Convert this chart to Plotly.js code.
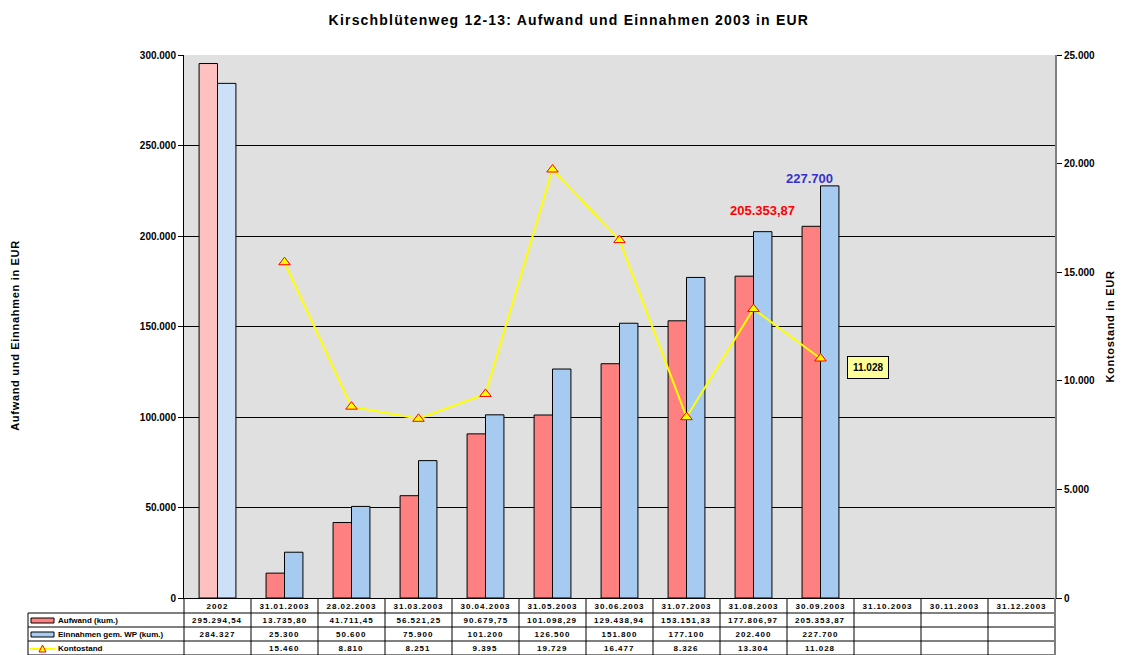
<!DOCTYPE html>
<html><head><meta charset="utf-8">
<script src="https://cdn.plot.ly/plotly-3.0.1.min.js"></script>
<style>body{margin:0;background:#fff}#chart{width:1122px;height:655px}</style>
</head><body><div id="chart"></div>
<script>
const categories = ["2002","31.01.2003","28.02.2003","31.03.2003","30.04.2003","31.05.2003","30.06.2003","31.07.2003","31.08.2003","30.09.2003","31.10.2003","30.11.2003","31.12.2003"];
const aufwand = [295294.54,13735.80,41711.45,56521.25,90679.75,101098.29,129438.94,153151.33,177806.97,205353.87,null,null,null];
const einnahmen = [284327,25300,50600,75900,101200,126500,151800,177100,202400,227700,null,null,null];
const kontostand = [null,15460,8810,8251,9395,19729,16477,8326,13304,11028,null,null,null];
const seriesNames = ["Aufwand (kum.)","Einnahmen gem. WP (kum.)","Kontostand"];

const W=1122,H=655,L=184,R=1055,T=55,B=598;
const py = p => (B-p)/(B-T);
const px = p => (p-L)/(R-L);
const FONT = "Liberation Sans, Arial, sans-serif";

function fmt(v, dec){
  if(v===null||v===undefined) return "";
  let s = v.toFixed(dec);
  let [ip, dp] = s.split(".");
  ip = ip.replace(/\B(?=(\d{3})+(?!\d))/g, ".");
  return dp ? ip + "," + dp : ip;
}

const aufColors = aufwand.map((v,i)=> i===0 ? "#FFC0C0" : "#FF8080");
const einColors = einnahmen.map((v,i)=> i===0 ? "#CCE0F8" : "#A6CAF0");

const traces = [
  {type:"bar", x:categories, y:aufwand, name:seriesNames[0], marker:{color:aufColors, line:{color:"#000",width:1}}, hoverinfo:"skip"},
  {type:"bar", x:categories, y:einnahmen, name:seriesNames[1], marker:{color:einColors, line:{color:"#000",width:1}}, hoverinfo:"skip"},
  {type:"scatter", mode:"lines+markers", x:categories, y:kontostand, yaxis:"y2", name:seriesNames[2],
   line:{color:"#FFFF00", width:2}, marker:{symbol:"triangle-up", size:10, color:"#FFFF00", line:{color:"#FF0000", width:1}}, hoverinfo:"skip"}
];

const n = categories.length;
const shapes = [];
const rowY = [598, 613, 627, 641, 655];
for(let r=1;r<rowY.length;r++){
  shapes.push({type:"line", xref:"paper", yref:"paper", x0:px(28), x1:1, y0:py(rowY[r]), y1:py(rowY[r]), line:{color:"#000", width:1}});
}
for(let i=0;i<=n;i++){
  shapes.push({type:"line", xref:"paper", yref:"paper", x0:i/n, x1:i/n, y0:py(598), y1:py(660), line:{color: i===n ? "#808080" : "#000", width: i===n?2:1}});
}
shapes.push({type:"line", xref:"paper", yref:"paper", x0:px(28), x1:px(28), y0:py(613), y1:py(660), line:{color:"#000", width:1}});
// legend keys
shapes.push({type:"rect", xref:"paper", yref:"paper", x0:px(31), x1:px(54), y0:py(618), y1:py(623), fillcolor:"#FF8080", line:{color:"#000",width:1}});
shapes.push({type:"rect", xref:"paper", yref:"paper", x0:px(31), x1:px(54), y0:py(632), y1:py(637), fillcolor:"#A6CAF0", line:{color:"#000",width:1}});
shapes.push({type:"line", xref:"paper", yref:"paper", x0:px(30), x1:px(55), y0:py(649), y1:py(649), line:{color:"#FFFF00",width:2}});
shapes.push({type:"path", xref:"paper", yref:"paper",
  path:`M ${px(39)} ${py(652)} L ${px(46)} ${py(652)} L ${px(42.5)} ${py(645)} Z`, fillcolor:"#FFFF00", line:{color:"#FF0000",width:1}});

const annotations = [];
annotations.push({xref:"x", yref:"y", x:8.13, y:214000, xanchor:"center", yanchor:"middle", text:fmt(aufwand[9],2), showarrow:false, font:{family:FONT, size:13, color:"#FF0000", weight:"bold"}});
annotations.push({xref:"x", yref:"y", x:8.83, y:232000, xanchor:"center", yanchor:"middle", text:fmt(einnahmen[9],0), showarrow:false, font:{family:FONT, size:13, color:"#3333CC", weight:"bold"}});
annotations.push({xref:"x", yref:"y2", x:9.71, y:10635, xanchor:"center", yanchor:"middle", text:fmt(kontostand[9],0), showarrow:false, bgcolor:"#FFFF99", bordercolor:"#000", borderwidth:1, borderpad:5, font:{family:FONT, size:10, color:"#000", weight:"bold"}});
annotations.push({xref:"paper", yref:"paper", x:px(15), y:py(336), xanchor:"center", yanchor:"middle", textangle:-90, text:"Aufwand und Einnahmen in EUR", showarrow:false, font:{family:FONT, size:11, color:"#000", weight:"bold"}});
const leftTitleIdx = annotations.length-1;

const rows = [aufwand.map(v=>fmt(v,2)), einnahmen.map(v=>fmt(v,0)), kontostand.map(v=>fmt(v,0))];
const tableStart = annotations.length;
rows.forEach((row, r)=>{
  const yc = (rowY[r+1]+rowY[r+2])/2;
  row.forEach((t,i)=>{
    if(!t) return;
    annotations.push({xref:"x", yref:"paper", x:i, y:py(yc), xanchor:"center", yanchor:"middle", text:t, showarrow:false, font:{family:FONT, size:8, color:"#000", weight:"bold"}});
  });
});
const tableEnd = annotations.length;
rows.forEach((row, r)=>{
  const yc = (rowY[r+1]+rowY[r+2])/2;
  annotations.push({xref:"paper", yref:"paper", x:px(56), xanchor:"left", y:py(yc), yanchor:"middle", text:seriesNames[r], showarrow:false, font:{family:FONT, size:8, color:"#000", weight:"bold"}});
});

const layout = {
  width:W, height:H,
  margin:{l:L, r:W-R, t:T, b:H-B, pad:0},
  paper_bgcolor:"#FFFFFF", plot_bgcolor:"#E0E0E0",
  separators:",.",
  showlegend:false,
  barmode:"group", bargap:0.45, bargroupgap:0,
  title:{text:"Kirschblütenweg 12-13: Aufwand und Einnahmen 2003 in EUR", x:0.507, xanchor:"center", y:0.969, yanchor:"middle", font:{family:FONT, size:14, color:"#000", weight:"bold"}},
  xaxis:{type:"category", range:[-0.5, n-0.5], showgrid:false, ticks:"", showline:true, linecolor:"#000", linewidth:1,
         tickfont:{family:FONT, size:8, color:"#000", weight:"bold"}, mirror:false, zeroline:false},
  yaxis:{range:[0,300000], dtick:50000, tickformat:",d", showgrid:true, gridcolor:"#000", gridwidth:1, ticks:"outside", ticklen:5, tickcolor:"#000",
         showline:true, linecolor:"#000", linewidth:1, zeroline:false,
         tickfont:{family:FONT, size:10, color:"#000", weight:"bold"}},
  yaxis2:{range:[0,25000], dtick:5000, tickformat:",d", overlaying:"y", side:"right", showgrid:false, ticks:"outside", ticklen:5, tickcolor:"#000",
          showline:true, linecolor:"#808080", linewidth:2, zeroline:false,
          tickfont:{family:FONT, size:10, color:"#000", weight:"bold"},
          title:{text:"Kontostand in EUR", standoff:12, font:{family:FONT, size:11, color:"#000", weight:"bold"}}},
  shapes:shapes, annotations:annotations
};
Plotly.newPlot("chart", traces, layout, {displayModeBar:false, staticPlot:true}).then(()=>{
  document.querySelectorAll("g.annotation").forEach(g=>{
    const idx = +g.getAttribute("data-index");
    if(idx>=tableStart && idx<tableEnd){ g.querySelectorAll("text").forEach(t=>t.style.letterSpacing="1px"); }
    if(idx===leftTitleIdx){ g.querySelectorAll("text").forEach(t=>t.style.letterSpacing="0.7px"); }
  });
  document.querySelectorAll(".xtick text").forEach(t=>t.style.letterSpacing="1px");
  document.querySelectorAll(".gtitle").forEach(t=>t.style.letterSpacing="1.2px");
  document.querySelectorAll(".y2title").forEach(t=>t.style.letterSpacing="0.7px");
});
</script></body></html>
